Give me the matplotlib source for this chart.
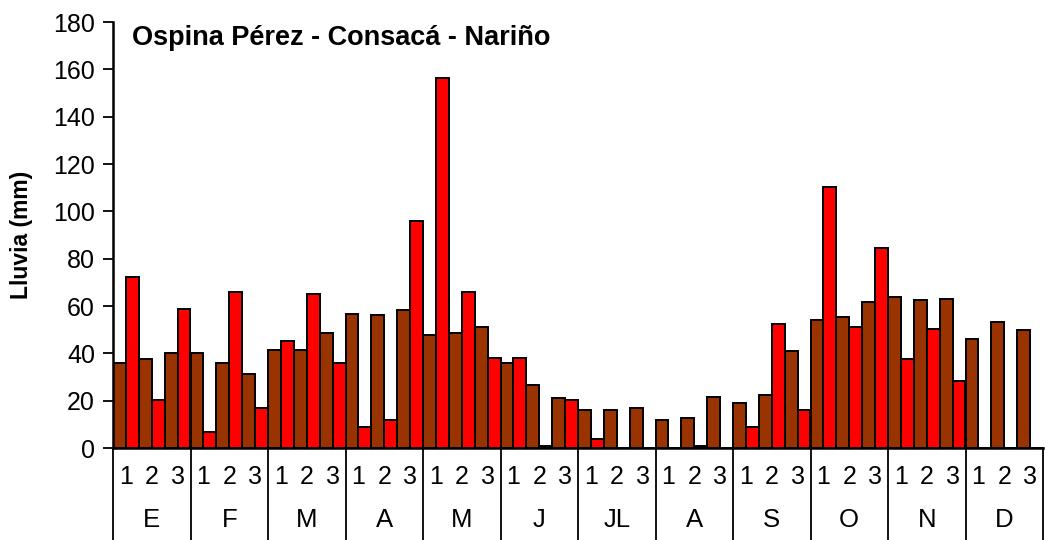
"""Dekadal rainfall, Ospina Pérez - Consacá - Nariño (two series per dekad)."""
import numpy as np
import matplotlib
matplotlib.use("Agg")
import matplotlib.pyplot as plt
from matplotlib.transforms import blended_transform_factory

plt.rcParams["font.family"] = ["Liberation Sans", "DejaVu Sans"]

MONTHS = ["E", "F", "M", "A", "M", "J", "JL", "A", "S", "O", "N", "D"]
DEKADS = ["1", "2", "3"]

# brown series (first bar of each dekad)
serie_a = [36.0, 37.4, 40.2,  40.2, 36.0, 31.2,  41.6, 41.6, 48.8,
           56.7, 56.0, 58.2,  47.6, 48.8, 51.1,  36.0, 26.8, 21.0,
           16.1, 16.1, 16.8,  11.9, 12.6, 21.7,  18.9, 22.6, 40.9,
           53.9, 55.3, 61.7,  63.8, 62.4, 63.1,  46.0, 53.2, 49.7]
# red series (second bar of each dekad)
serie_b = [72.4, 20.3, 58.9,  6.6, 65.9, 16.8,  45.3, 65.2, 36.0,
           8.9, 11.9, 96.0,  156.5, 65.9, 38.1,  38.1, 1.0, 20.3,
           4.0, 0.0, 0.0,  0.0, 1.0, 0.0,  8.9, 52.5, 16.1,
           110.4, 51.1, 84.5,  37.4, 50.4, 28.2,  0.0, 0.0, 0.0]

BROWN = "#993300"
RED = "#FF0000"

fig = plt.figure(figsize=(10.45, 5.40), dpi=100)
ax = fig.add_axes([113 / 1045, 92 / 540, 930 / 1045, 426 / 540])

n = len(serie_a)
idx = np.arange(n)
ax.bar(2 * idx + 0.5, serie_a, width=1.0, color=BROWN, edgecolor="black", linewidth=1.4)
ax.bar(2 * idx + 1.5, serie_b, width=1.0, color=RED, edgecolor="black", linewidth=1.4)

ax.set_xlim(0, 2 * n)
ax.set_ylim(0, 180)
ax.set_yticks(np.arange(0, 181, 20))
ax.tick_params(axis="y", direction="out", length=7, width=1.3, labelsize=18, pad=6)
ax.set_xticks([])
for s in ("top", "right"):
    ax.spines[s].set_visible(False)
ax.spines["left"].set_linewidth(1.8)
ax.spines["bottom"].set_linewidth(1.8)

ax.set_ylabel("Lluvia (mm)", fontsize=16.5, fontweight="bold")
ax.yaxis.set_label_coords(-0.086, 0.5)

ax.text(0.0204, 0.962, "Ospina Pérez - Consacá - Nariño", transform=ax.transAxes,
        fontsize=19.5, fontweight="bold", va="center", ha="left")

# two-level category table under the axis
tr = blended_transform_factory(ax.transData, ax.transAxes)
for m in range(len(MONTHS) + 1):
    ax.plot([6 * m, 6 * m], [0, -0.25], transform=tr, color="black", lw=1.3,
            clip_on=False)
for m, name in enumerate(MONTHS):
    for d, lab in enumerate(DEKADS):
        ax.text(6 * m + 2 * d + 1, -0.068, lab, transform=tr, ha="center",
                va="center", fontsize=18)
    ax.text(6 * m + 3, -0.170, name, transform=tr, ha="center", va="center",
            fontsize=18.5)

fig.savefig("out.png", dpi=100)
